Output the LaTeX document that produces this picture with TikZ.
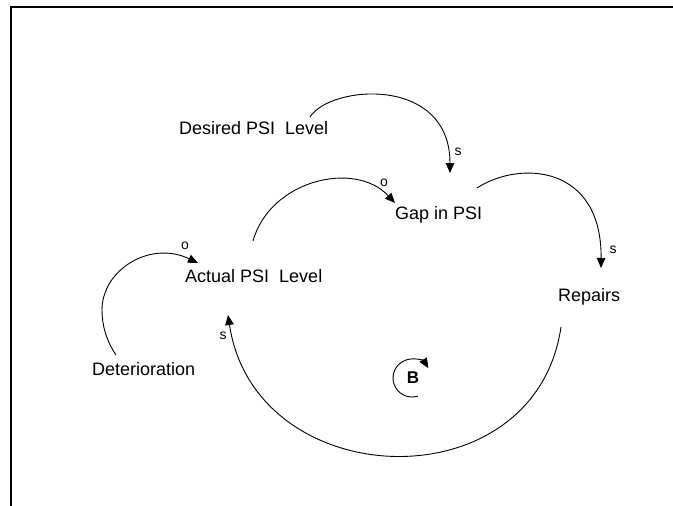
\documentclass[tikz,border=0pt]{standalone}
\usepackage{fontspec}
\setmainfont{Liberation Sans}
\usetikzlibrary{arrows.meta}
\begin{document}
\begin{tikzpicture}[x=1pt,y=-1pt,
  lbl/.style={font=\fontsize{18}{20}\selectfont, inner sep=0pt, anchor=base west},
  pol/.style={font=\fontsize{14}{16}\selectfont, inner sep=0pt},
  link/.style={line width=0.9pt, -{Triangle[length=10pt,width=8.5pt]}},
  frameline/.style={line width=2.2pt}]
\useasboundingbox (0,0) rectangle (673,506);
\fill[white] (0,0) rectangle (673,506);
% frame
\draw[frameline] (11,506) -- (11,7) -- (673,7);
% variables
\node[lbl] (des) at (179,134) {Desired PSI\ \ Level};
\node[lbl] (act) at (185,282) {Actual PSI\ \ Level};
\node[lbl] (gap) at (395,219) {Gap in PSI};
\node[lbl] (rep) at (558,301) {Repairs};
\node[lbl] (det) at (92,375) {Deterioration};
% connector ends
\coordinate (desOut) at (310,117);
\coordinate (gapInA) at (450,173);
\coordinate (actOut) at (253,241);
\coordinate (gapInB) at (395,203);
\coordinate (gapOut) at (477,188);
\coordinate (repIn) at (601,268);
\coordinate (repOut) at (561,327);
\coordinate (actInA) at (228,315);
\coordinate (detOut) at (116,355);
\coordinate (detMid) at (102,310);
\coordinate (actInB) at (198,263);
% links
\draw[link] (desOut) .. controls (330,85) and (450,75) .. (gapInA);
\draw[link] (actOut) .. controls (270,180) and (355,160) .. (gapInB);
\draw[link] (gapOut) .. controls (520,160) and (602,165) .. (repIn);
\draw[link] (repOut) .. controls (535,505) and (255,495) .. (actInA);
\draw[link] (detOut) .. controls (106,340) and (102,325) .. (detMid)
  .. controls (102,270) and (150,240) .. (actInB);
% polarities
\node[pol] (pS1) at (458,152) {s};
\node[pol] (pO1) at (384,182.5) {o};
\node[pol] (pS2) at (613,250) {s};
\node[pol] (pO2) at (185,245.5) {o};
\node[pol] (pS3) at (223,336) {s};
% loop marker
\node[font=\bfseries\fontsize{17}{19}\selectfont, inner sep=0pt] (loopB) at (413,377.5) {B};
\coordinate (loopStart) at (417.9,396.1);
\draw[link] (loopStart) arc[start angle=72, end angle=329, radius=19];
\end{tikzpicture}
\end{document}
